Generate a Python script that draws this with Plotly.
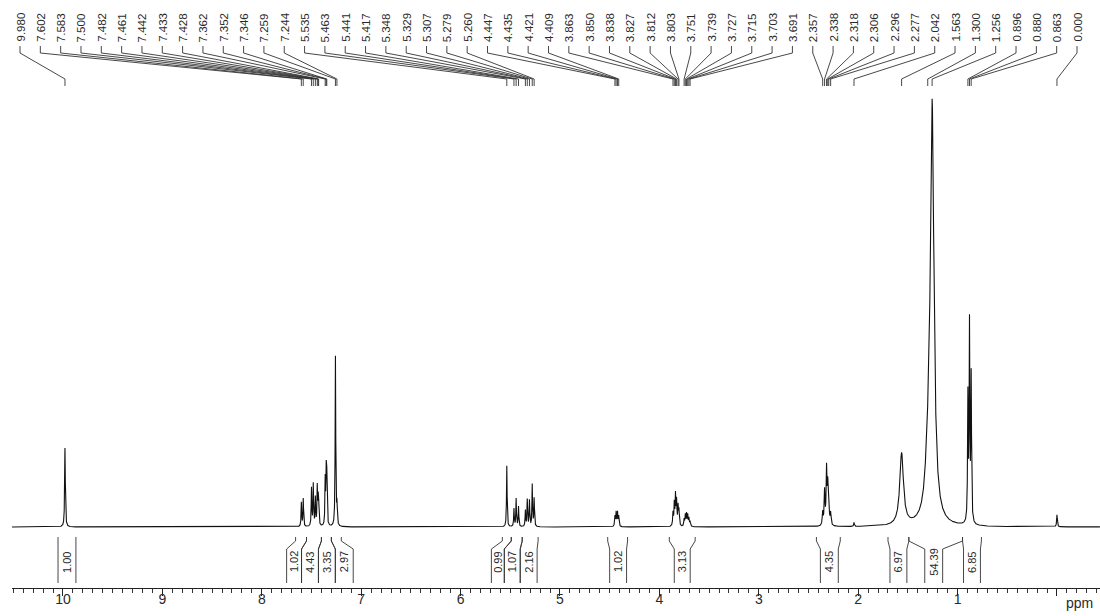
import numpy as np
import plotly.graph_objects as go

# ---------------- data ----------------
# peak-picked chemical shifts (ppm), as labelled at the top of the spectrum
shift_labels = [9.980, 7.602, 7.583, 7.500, 7.482, 7.461, 7.442, 7.433, 7.428, 7.362, 7.352, 7.346,
                7.259, 7.244, 5.535, 5.463, 5.441, 5.417, 5.348, 5.329, 5.307, 5.279, 5.260,
                4.447, 4.435, 4.421, 4.409, 3.863, 3.850, 3.838, 3.827, 3.812, 3.803, 3.751,
                3.739, 3.727, 3.715, 3.703, 3.691, 2.357, 2.338, 2.318, 2.306, 2.296, 2.277,
                2.042, 1.563, 1.300, 1.256, 0.896, 0.880, 0.863, 0.000]
# estimated line heights (arbitrary intensity units) for each picked line
peak_heights = [79, 24, 28, 38, 42, 28, 38, 22, 22, 45, 50, 45,
                170, 20, 61, 18, 28, 20, 16, 27, 26, 42, 28,
                10, 14, 14, 10, 13, 22, 30, 24, 19, 15, 7,
                11, 12, 11, 8, 5, 13, 34, 55, 36, 25, 12,
                4, 72, 40, 415, 125, 196, 145, 12]
# estimated half widths at half maximum (ppm)
peak_hwhm = [0.004, 0.0035, 0.0035, 0.0035, 0.0035, 0.0035, 0.0035, 0.0035, 0.0035, 0.0035, 0.0035, 0.0035,
             0.0035, 0.0035, 0.0035, 0.0035, 0.0035, 0.0035, 0.0035, 0.0035, 0.0035, 0.0035, 0.0035,
             0.004, 0.004, 0.004, 0.004, 0.004, 0.004, 0.004, 0.004, 0.004, 0.004, 0.004,
             0.004, 0.004, 0.004, 0.004, 0.004, 0.005, 0.005, 0.005, 0.005, 0.005, 0.005,
             0.004, 0.022, 0.03, 0.022, 0.004, 0.004, 0.004, 0.004]

# integrals: region start / end (ppm) and values
int_start = [10.05, 7.66, 7.55, 7.40, 7.30, 5.58, 5.49, 5.38, 4.52, 3.90, 2.42, 1.70, 1.49, 0.95]
int_end = [9.87, 7.55, 7.40, 7.30, 7.20, 5.49, 5.38, 5.22, 4.32, 3.64, 2.18, 1.49, 0.95, 0.76]
int_values = ["1.00", "1.02", "4.43", "3.35", "2.97", "0.99", "1.07", "2.16", "1.02", "3.13",
              "4.35", "6.97", "54.39", "6.85"]
# label bracket positions (ppm) where the integral brackets are drawn below the label
int_lab_lo = [10.05, 7.75, 7.60, 7.43, 7.26, 5.69, 5.56, 5.40, 4.50, 3.85, 2.38, 1.68, 1.33, 0.94]
int_lab_hi = [9.87, 7.60, 7.43, 7.26, 7.08, 5.56, 5.40, 5.23, 4.33, 3.69, 2.20, 1.51, 1.15, 0.77]

x_ticks = list(range(0, 11))
x_ticktext = [""] + [str(v) for v in range(1, 11)]

# ---------------- geometry ----------------
W, H = 1100, 616
ML, MR, MT, MB = 12, 0, 0, 28
PW = W - ML - MR
PH = H - MT - MB
R0, R1 = 10.513, -0.433          # ppm at left / right edge of plot area
Y_BASE = 527                     # baseline pixel row
Y_LO = -(PH - Y_BASE)            # intensity at bottom of plot area
Y_HI = Y_BASE                    # intensity at top of plot area (1 unit = 1 px)


def px_to_ppm(px):
    return R0 - (px - ML) / PW * (R0 - R1)


# spectrum from the peak list (sum of Lorentzian lines)
ppm = np.arange(R0, R1, -0.0005)
inten = np.zeros_like(ppm)
for c, h, w in zip(shift_labels, peak_heights, peak_hwhm):
    inten += h / (1.0 + ((ppm - c) / w) ** 2)

FONT = "Liberation Sans, Arial, sans-serif"
TXT = "#2a2a2a"

fig = go.Figure()
fig.add_trace(go.Scatter(x=ppm, y=inten, mode="lines",
                         line=dict(color="#111111", width=1.1),
                         hoverinfo="skip", showlegend=False))

# leader lines from peak labels to peaks (drawn on pixel overlay axis y2)
n = len(shift_labels)
lbl_px = [20 + i * (1077 - 20) / (n - 1) for i in range(n)]
lx, ly = [], []
for px, s in zip(lbl_px, shift_labels):
    lp = px_to_ppm(px)
    lx += [lp, lp, s, s, None]
    ly += [46, 53, 79, 86, None]
fig.add_trace(go.Scatter(x=lx, y=ly, yaxis="y2", mode="lines",
                         line=dict(color="#333333", width=0.9),
                         hoverinfo="skip", showlegend=False))

for px, s in zip(lbl_px, shift_labels):
    fig.add_annotation(x=px_to_ppm(px), y=43, xref="x", yref="y2",
                       text=f"{s:.3f}", textangle=-90, showarrow=False,
                       xanchor="center", yanchor="bottom",
                       font=dict(family=FONT, size=11.5, color=TXT), borderpad=0)

# integral brackets
bx, by = [], []
for a, b, la, lb in zip(int_start, int_end, int_lab_lo, int_lab_hi):
    bx += [a, a, la, la, None, b, b, lb, lb, None]
    by += [537, 541, 549, 583, None, 537, 541, 549, 583, None]
fig.add_trace(go.Scatter(x=bx, y=by, yaxis="y2", mode="lines",
                         line=dict(color="#333333", width=0.9),
                         hoverinfo="skip", showlegend=False))
for la, lb, v in zip(int_lab_lo, int_lab_hi, int_values):
    fig.add_annotation(x=(la + lb) / 2, y=562, xref="x", yref="y2",
                       text=v, textangle=-90, showarrow=False,
                       xanchor="center", yanchor="middle",
                       font=dict(family=FONT, size=11, color=TXT), borderpad=0)

# axis unit label, placed below the plot area (paper coordinates)
fig.add_annotation(x=(1079 - ML) / PW, y=(PH - 603) / PH, xref="paper", yref="paper",
                   text="ppm", showarrow=False, xanchor="center", yanchor="middle",
                   font=dict(family=FONT, size=14, color=TXT), borderpad=0)

fig.update_layout(
    template=None,
    width=W, height=H,
    margin=dict(l=ML, r=MR, t=MT, b=MB, autoexpand=False),
    paper_bgcolor="white", plot_bgcolor="white",
    hovermode=False,
    xaxis=dict(range=[R0, R1], tickmode="array", tickvals=x_ticks, ticktext=x_ticktext,
               ticks="outside", ticklen=7, tickwidth=1, tickcolor="#222",
               showline=True, linecolor="#222", linewidth=1, automargin=False,
               showgrid=False, zeroline=False, ticklabelstandoff=-9,
               tickfont=dict(family=FONT, size=14, color=TXT),
               minor=dict(tickmode="linear", tick0=0, dtick=0.1, ticks="outside",
                          ticklen=4, tickwidth=1, tickcolor="#333", showgrid=False)),
    yaxis=dict(range=[Y_LO, Y_HI], visible=False, fixedrange=True, automargin=False),
    yaxis2=dict(range=[PH, 0], overlaying="y", visible=False, automargin=False),
)

# remove the browser's default 8px page margin so the figure fills the window exactly
fig.write_html("out.html",
               config={"displayModeBar": False, "staticPlot": True},
               post_script="document.body.style.margin='0';document.body.style.overflow='hidden';")
